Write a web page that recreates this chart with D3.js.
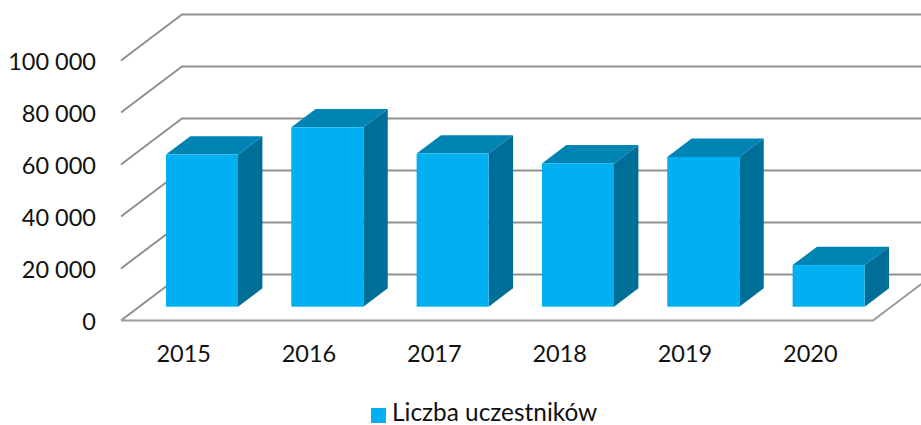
<!DOCTYPE html>
<html>
<head>
<meta charset="utf-8">
<script src="https://cdn.jsdelivr.net/npm/d3@7"></script>
<style>
  html, body { margin: 0; padding: 0; background: #fff; }
  svg { display: block; }
  text { font-family: Lato, "Open Sans", sans-serif; fill: #111; }
</style>
</head>
<body>
<svg></svg>
<script>
const width = 921;
const height = 425;

const years = ['2015', '2016', '2017', '2018', '2019', '2020'];
const participants = [58500, 69000, 58900, 55100, 57600, 16000];
const yTicks = [0, 20000, 40000, 60000, 80000, 100000];
const seriesName = 'Liczba uczestników';

// depth of the floor in px, the chart is a fake 3d column chart
const depthX = 61;
const depthY = -46;
const barStart = 0.3;
const barDepth = 0.4;

const svg = d3.select('svg')
  .attr('width', width)
  .attr('height', height)
  .attr('viewBox', `0 0 ${width} ${height}`);

const x = d3.scaleBand()
  .domain(years)
  .range([121, 873])
  .paddingInner(0.425)
  .paddingOuter(0.2125);

const y = d3.scaleLinear()
  .domain([0, 100000])
  .range([320.5, 60.5]);

// walls and gridlines
const grid = svg.append('g');
grid.selectAll('path')
  .data(yTicks)
  .join('path')
  .attr('d', d => `M${x.range()[0]},${y(d)}L${x.range()[0] + depthX},${y(d) + depthY}L${width + 5},${y(d) + depthY}`)
  .attr('fill', 'none')
  .attr('stroke', '#909090')
  .attr('stroke-width', 2);

// front edge of the floor
grid.append('path')
  .attr('d', `M${x.range()[0]},${y(0)}L${x.range()[1]},${y(0)}L${x.range()[1] + depthX},${y(0) + depthY}`)
  .attr('fill', 'none')
  .attr('stroke', '#9c9c9c')
  .attr('stroke-width', 2);

const bars = svg.append('g')
  .selectAll('g')
  .data(years.map((year, i) => ({ year, value: participants[i] })))
  .join('g')
  .attr('transform', `translate(${depthX * barStart},${depthY * barStart})`);

const dx = depthX * barDepth;
const dy = depthY * barDepth;

bars.append('path')
  .attr('fill', '#006F97')
  .attr('d', d => {
    const r = x(d.year) + x.bandwidth();
    return `M${r},${y(d.value)}l${dx},${dy}V${y(0) + dy}l${-dx},${-dy}Z`;
  });

bars.append('path')
  .attr('fill', '#0084B4')
  .attr('d', d => `M${x(d.year)},${y(d.value)}l${dx},${dy}h${x.bandwidth()}l${-dx},${-dy}Z`);

bars.append('rect')
  .attr('fill', '#00B0F0')
  .attr('x', d => x(d.year))
  .attr('y', d => y(d.value))
  .attr('width', x.bandwidth())
  .attr('height', d => y(0) - y(d.value));

const yAxis = d3.axisLeft(y)
  .tickValues(yTicks)
  .tickSize(0)
  .tickPadding(0)
  .tickFormat(d => d3.format(',')(d).replace(/,/g, ' '));

svg.append('g')
  .attr('transform', 'translate(96,1)')
  .call(yAxis)
  .call(g => g.select('.domain').remove())
  .selectAll('text')
  .attr('font-size', 23.5)
  .style('font-family', 'Lato, "Open Sans", sans-serif');

const xAxis = d3.axisBottom(x)
  .tickSize(0)
  .tickPadding(0);

svg.append('g')
  .attr('transform', 'translate(0,345)')
  .call(xAxis)
  .call(g => g.select('.domain').remove())
  .selectAll('text')
  .attr('font-size', 23.5)
  .style('font-family', 'Lato, "Open Sans", sans-serif');

// legend
const legend = svg.append('g');
legend.append('rect')
  .attr('x', 371)
  .attr('y', 408)
  .attr('width', 15)
  .attr('height', 15)
  .attr('fill', '#00B0F0');
legend.append('text')
  .attr('x', 392)
  .attr('y', 421)
  .attr('font-size', 24.4)
  .text(seriesName);
</script>
</body>
</html>
